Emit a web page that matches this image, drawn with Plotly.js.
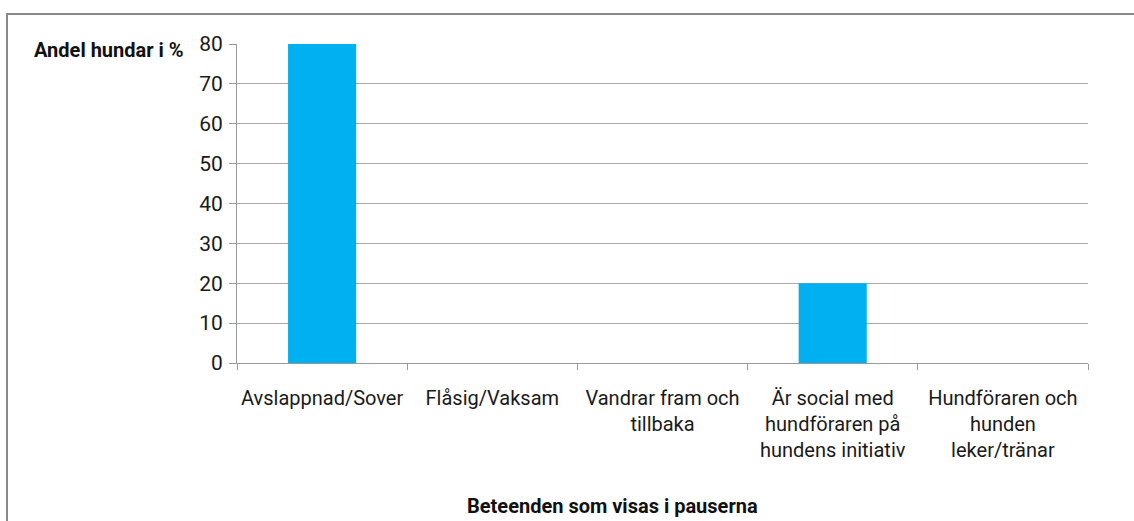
<!DOCTYPE html>
<html>
<head>
<meta charset="utf-8">
<script src="https://cdn.plot.ly/plotly-3.0.1.min.js"></script>
<style>html,body{margin:0;padding:0;background:#fff;}#chart{width:1134px;height:521px;}</style>
</head>
<body>
<div id="chart"></div>
<script>
const categories = ["Avslappnad/Sover", "Flåsig/Vaksam", "Vandrar fram och tillbaka", "Är social med hundföraren på hundens initiativ", "Hundföraren och hunden leker/tränar"];
const tickLabels = ["Avslappnad/Sover", "Flåsig/Vaksam", "Vandrar fram och<br>tillbaka", "Är social med<br>hundföraren på<br>hundens initiativ", "Hundföraren och<br>hunden<br>leker/tränar"];
const values = [80, 0, 0, 20, 0];
const yTitle = "Andel hundar i %";
const xTitle = "Beteenden som visas i pauserna";

const FONT = "Roboto, 'Liberation Sans', sans-serif";
const L = 237, R = 1134 - 1088, T = 44, B = 521 - 363;
const W = 1134 - L - R, H = 521 - T - B;
const px = x => (x - L) / W;
const py = y => (521 - B - y) / H;

Plotly.newPlot('chart', [{
  type: 'bar',
  x: categories,
  y: values,
  marker: {color: '#00B0F0'},
  width: 0.4,
  hoverinfo: 'x+y'
}], {
  width: 1134, height: 521,
  margin: {l: L, r: R, t: T, b: B, pad: 0},
  paper_bgcolor: '#fff', plot_bgcolor: '#fff',
  font: {family: FONT, size: 20, color: '#1a1a1a'},
  showlegend: false,
  xaxis: {
    type: 'category',
    tickvals: categories, ticktext: tickLabels,
    tickangle: 0, automargin: false,
    ticks: 'outside', tickson: 'boundaries', ticklen: 6, tickcolor: '#999', tickwidth: 1,
    showline: true, linecolor: '#999', linewidth: 1,
    showgrid: false, zeroline: false,
    tickfont: {family: FONT, size: 20, color: '#1a1a1a'},
    ticklabelstandoff: 17,
    fixedrange: true
  },
  yaxis: {
    range: [0, 80], dtick: 10, tick0: 0,
    ticks: 'outside', ticklen: 7, tickcolor: '#999', tickwidth: 1,
    showline: true, linecolor: '#999', linewidth: 1,
    showgrid: true, gridcolor: '#a8a8a8', gridwidth: 1,
    zeroline: false, automargin: false,
    tickfont: {family: FONT, size: 21, color: '#1a1a1a'},
    ticklabelstandoff: 2,
    fixedrange: true
  },
  annotations: [
    {text: '<b>' + yTitle + '</b>', xref: 'paper', yref: 'paper', x: px(186), y: py(50), xanchor: 'right', yanchor: 'middle', showarrow: false, font: {family: FONT, size: 20, color: '#111'}},
    {text: '<b>' + xTitle + '</b>', xref: 'paper', yref: 'paper', x: px(612), y: py(506), xanchor: 'center', yanchor: 'middle', showarrow: false, font: {family: FONT, size: 20, color: '#111'}}
  ],
  shapes: [
    {type: 'rect', xref: 'paper', yref: 'paper', x0: px(7), x1: px(1150), y0: py(540), y1: py(14), line: {color: '#888', width: 2}, fillcolor: 'rgba(0,0,0,0)', layer: 'below'}
  ]
}, {displayModeBar: false, staticPlot: true});
</script>
</body>
</html>
